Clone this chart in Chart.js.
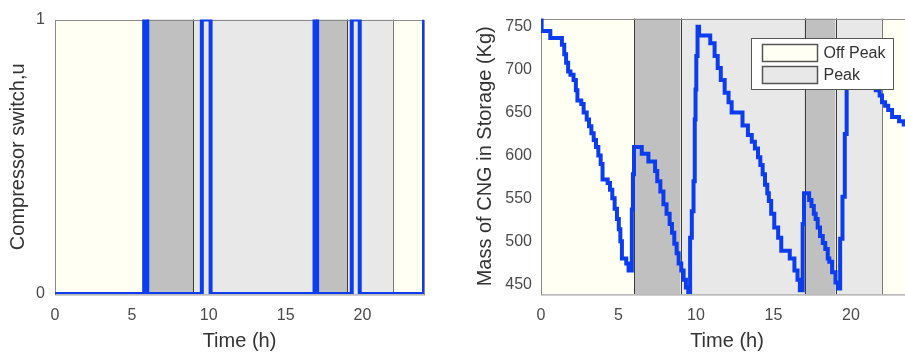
<!DOCTYPE html>
<html lang="en">
<head>
<meta charset="UTF-8">
<title>Compressor switch and CNG storage</title>
<script src="https://cdn.jsdelivr.net/npm/chart.js"></script>
<style>
    html, body { margin: 0; padding: 0; background: #fff; overflow: hidden; }
    #left { position: absolute; left: 0; top: 0; }
    #right { position: absolute; left: 455px; top: 0; }
</style>
</head>
<body>
<canvas id="left" width="440" height="354"></canvas>
<canvas id="right" width="458" height="354"></canvas>
<script>
    // tick labels
    var xTicks = [0, 5, 10, 15, 20];
    var uTicks = [0, 1];
    var massTicks = [450, 500, 550, 600, 650, 700, 750];

    // compressor switch (value holds from each time until the next one)
    var uTime  = [0, 5.8, 6.0, 9.55, 10.12, 16.88, 17.05, 19.3, 19.82, 24];
    var uValue = [0, 1,   0,   1,    0,     1,     0,     1,    0,     1];

    // mass of CNG in storage, staircase
    var massTime = [0, 0.04, 0.6, 1.35, 1.5, 1.62, 1.75, 1.9, 2.1, 2.25, 2.35, 2.6, 2.75, 2.95, 3.1, 3.25, 3.4, 3.55, 3.7, 3.85,
        3.97, 4.3, 4.45, 4.6, 4.75, 4.9, 5.02, 5.12, 5.22, 5.5, 5.65, 5.86, 5.93, 6.0, 6.5, 6.93, 7.36, 7.5, 7.7, 7.9,
        8.1, 8.3, 8.45, 8.6, 8.75, 8.88, 9.05, 9.2, 9.35, 9.5, 9.62, 9.73, 9.84, 9.92, 9.97, 10.02, 10.1, 10.2, 10.92, 11.0,
        11.2, 11.4, 11.6, 11.85, 12.1, 12.3, 13.0, 13.35, 13.6, 13.8, 14.0, 14.15, 14.3, 14.45, 14.6, 14.7, 14.85, 15.05, 15.3, 15.5,
        16.05, 16.35, 16.55, 16.7, 16.88, 16.97, 17.3, 17.45, 17.6, 17.72, 17.85, 18.0, 18.18, 18.34, 18.5, 18.6, 18.78, 19.0, 19.15, 19.3,
        19.45, 19.6, 19.72, 19.82, 20.5, 20.8, 21.1, 21.3, 21.6, 21.85, 22.0, 22.2, 22.4, 22.65, 23.1, 23.4, 24];
    var massValue = [760, 745, 737, 729, 718, 708, 698, 694, 688, 676, 664, 660, 650, 642, 634, 626, 618, 610, 600, 590,
        572, 568, 560, 550, 538, 526, 514, 500, 480, 474, 466, 537, 578, 610, 602, 593, 582, 570, 558, 543,
        532, 520, 510, 497, 486, 474, 466, 455, 446, 440, 504, 535, 570, 642, 677, 716, 750, 740, 731, 731,
        716, 702, 688, 673, 662, 650, 635, 624, 616, 608, 598, 589, 578, 566, 556, 547, 532, 516, 504, 489,
        480, 466, 455, 443, 520, 556, 548, 541, 532, 526, 516, 506, 498, 491, 480, 476, 464, 452, 445, 503,
        552, 625, 682, 722, 712, 700, 686, 679, 676, 670, 662, 658, 653, 645, 640, 636, 632];

    // tariff periods
    var bandStart = [0, 6, 9, 17, 19, 22];
    var bandEnd   = [6, 9, 17, 19, 22, 24];
    var bandKind  = ['off', 'peak', 'mid', 'peak', 'mid', 'off'];
    var legendLabels = ['Off Peak', 'Peak'];
    var legendKinds  = ['off', 'mid'];

    var fill = { off: '#fffff4', peak: '#c0c0c0', mid: '#e8e8e8' };
    var edge = { off: null, peak: '#3c3c3c', mid: '#7a7a7a' };
    var font = 'Liberation Sans, Arial, sans-serif';
    var blue = '#0b3cf0';

    function points(xs, ys) {
        return xs.map(function (t, i) { return { x: t, y: ys[i] }; });
    }

    var bandsPlugin = {
        id: 'bands',
        beforeDatasetsDraw: function (chart) {
            var ctx = chart.ctx, a = chart.chartArea, sx = chart.scales.x;
            ctx.save();
            for (var i = 0; i < bandStart.length; i++) {
                var x0 = sx.getPixelForValue(bandStart[i]), x1 = sx.getPixelForValue(bandEnd[i]);
                ctx.fillStyle = fill[bandKind[i]];
                ctx.fillRect(x0, a.top, x1 - x0, a.bottom - a.top);
            }
            ctx.lineWidth = 1;
            ['mid', 'peak'].forEach(function (k) {
                for (var i = 0; i < bandStart.length; i++) {
                    if (bandKind[i] !== k) continue;
                    ctx.strokeStyle = edge[k];
                    [bandStart[i], bandEnd[i]].forEach(function (v) {
                        var px = Math.round(sx.getPixelForValue(v)) + 0.5;
                        ctx.beginPath();
                        ctx.moveTo(px, a.top);
                        ctx.lineTo(px, a.bottom);
                        ctx.stroke();
                    });
                }
            });
            ctx.strokeStyle = '#8a8a8a';
            ctx.strokeRect(Math.round(a.left) + 0.5, Math.round(a.top) + 0.5, a.right - a.left, a.bottom - a.top);
            ctx.restore();
        }
    };

    var legendPlugin = {
        id: 'tariffLegend',
        afterDatasetsDraw: function (chart, args, opts) {
            if (!opts.show) return;
            var ctx = chart.ctx, a = chart.chartArea;
            var bx = Math.round(a.left + 210) + 0.5, by = Math.round(a.top + 19) + 0.5;
            ctx.save();
            ctx.fillStyle = '#ffffff';
            ctx.fillRect(bx, by, 142, 51);
            ctx.strokeStyle = '#555';
            ctx.lineWidth = 1;
            ctx.strokeRect(bx, by, 142, 51);
            ctx.font = '16px ' + font;
            ctx.textBaseline = 'middle';
            for (var i = 0; i < legendLabels.length; i++) {
                var sy = by + 6 + i * 22;
                ctx.fillStyle = fill[legendKinds[i]];
                ctx.fillRect(bx + 11, sy, 55, 17);
                ctx.strokeStyle = '#555';
                ctx.lineWidth = 1.5;
                ctx.strokeRect(bx + 11, sy, 55, 17);
                ctx.fillStyle = '#333';
                ctx.fillText(legendLabels[i], bx + 72, sy + 9);
            }
            ctx.restore();
        }
    };

    function makeChart(id, cfg) {
        var ctx = document.getElementById(id).getContext('2d');
        return new Chart(ctx, {
            type: 'line',
            data: {
                datasets: [{
                    data: points(cfg.xs, cfg.ys),
                    borderColor: blue,
                    borderWidth: 4,
                    pointRadius: 0,
                    stepped: true,
                    borderJoinStyle: 'miter',
                    borderCapStyle: 'butt',
                    fill: false
                }]
            },
            options: {
                responsive: false,
                animation: false,
                layout: { padding: { top: 15, right: cfg.padRight, left: 0, bottom: 0 } },
                plugins: {
                    legend: { display: false },
                    tooltip: { enabled: false },
                    tariffLegend: { show: cfg.legend }
                },
                scales: {
                    x: {
                        type: 'linear',
                        min: 0,
                        max: 24,
                        grid: { display: false, drawTicks: false },
                        border: { display: false },
                        afterBuildTicks: function (s) { s.ticks = xTicks.map(function (v) { return { value: v }; }); },
                        afterFit: function (s) { s.height = 60; },
                        ticks: { padding: 12, color: '#4a4a4a', font: { family: font, size: 16 } },
                        title: { display: true, text: 'Time (h)', color: '#333', padding: { top: 0, bottom: 1 },
                            font: { family: font, size: 20 } }
                    },
                    y: {
                        type: 'linear',
                        min: cfg.yMin,
                        max: cfg.yMax,
                        grid: { display: false, drawTicks: false },
                        border: { display: false },
                        afterBuildTicks: function (s) { s.ticks = cfg.yTicks.map(function (v) { return { value: v }; }); },
                        afterFit: function (s) { s.width = cfg.yWidth; },
                        ticks: { padding: cfg.tickPad, color: '#4a4a4a', font: { family: font, size: 16 } },
                        title: { display: true, text: cfg.yTitle, color: '#333', padding: { top: cfg.titlePad, bottom: 0 },
                            font: { family: font, size: 20 } }
                    }
                }
            },
            plugins: [bandsPlugin, legendPlugin]
        });
    }

    makeChart('left', {
        xs: uTime, ys: uValue, yMin: 0, yMax: 1, yTicks: uTicks,
        yTitle: 'Compressor switch,u', yWidth: 55, tickPad: 10, titlePad: 6, padRight: 16, legend: false
    });
    makeChart('right', {
        xs: massTime, ys: massValue, yMin: 438.5, yMax: 759.6, yTicks: massTicks,
        yTitle: 'Mass of CNG in Storage (Kg)', yWidth: 86, tickPad: 9, titlePad: 18, padRight: 0, legend: true
    });
</script>
</body>
</html>
